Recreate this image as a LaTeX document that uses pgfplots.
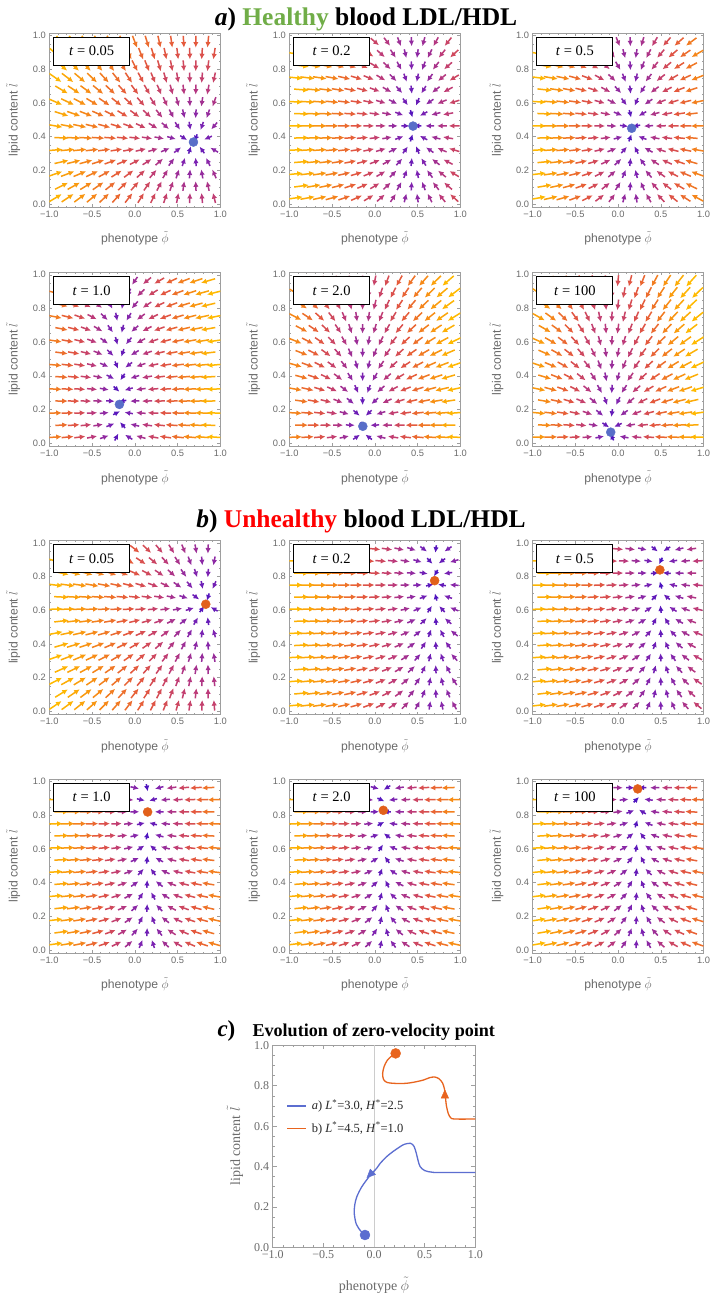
\documentclass[border=0pt]{standalone}
\usepackage{pgfplots}
\pgfplotsset{compat=1.18}
\usepackage{pgfplotstable}
\usepackage{fontspec}
\usetikzlibrary{arrows.meta}
\newfontfamily\lsans{Liberation Sans}
\newfontfamily\lserif{Liberation Serif}
\definecolor{framegray}{gray}{0.62}
\definecolor{labgray}{gray}{0.42}
\definecolor{hblue}{RGB}{88,110,200}
\definecolor{uorange}{RGB}{226,96,26}
\definecolor{cblue}{RGB}{92,110,208}
\definecolor{corange}{RGB}{232,100,30}
\definecolor{hgreen}{RGB}{112,173,71}

% staggered (hexagonal) grid of arrow anchor points
\pgfplotstableread[row sep=\\]{
x y\\
-0.929 0.036\\ -0.786 0.036\\ -0.643 0.036\\ -0.5 0.036\\ -0.357 0.036\\ -0.214 0.036\\ -0.071 0.036\\ 0.071 0.036\\ 0.214 0.036\\ 0.357 0.036\\ 0.5 0.036\\ 0.643 0.036\\ 0.786 0.036\\ 0.929 0.036\\
-0.857 0.107\\ -0.714 0.107\\ -0.571 0.107\\ -0.429 0.107\\ -0.286 0.107\\ -0.143 0.107\\ 0 0.107\\ 0.143 0.107\\ 0.286 0.107\\ 0.429 0.107\\ 0.571 0.107\\ 0.714 0.107\\ 0.857 0.107\\
-0.929 0.179\\ -0.786 0.179\\ -0.643 0.179\\ -0.5 0.179\\ -0.357 0.179\\ -0.214 0.179\\ -0.071 0.179\\ 0.071 0.179\\ 0.214 0.179\\ 0.357 0.179\\ 0.5 0.179\\ 0.643 0.179\\ 0.786 0.179\\ 0.929 0.179\\
-0.857 0.25\\ -0.714 0.25\\ -0.571 0.25\\ -0.429 0.25\\ -0.286 0.25\\ -0.143 0.25\\ 0 0.25\\ 0.143 0.25\\ 0.286 0.25\\ 0.429 0.25\\ 0.571 0.25\\ 0.714 0.25\\ 0.857 0.25\\
-0.929 0.321\\ -0.786 0.321\\ -0.643 0.321\\ -0.5 0.321\\ -0.357 0.321\\ -0.214 0.321\\ -0.071 0.321\\ 0.071 0.321\\ 0.214 0.321\\ 0.357 0.321\\ 0.5 0.321\\ 0.643 0.321\\ 0.786 0.321\\ 0.929 0.321\\
-0.857 0.393\\ -0.714 0.393\\ -0.571 0.393\\ -0.429 0.393\\ -0.286 0.393\\ -0.143 0.393\\ 0 0.393\\ 0.143 0.393\\ 0.286 0.393\\ 0.429 0.393\\ 0.571 0.393\\ 0.714 0.393\\ 0.857 0.393\\
-0.929 0.464\\ -0.786 0.464\\ -0.643 0.464\\ -0.5 0.464\\ -0.357 0.464\\ -0.214 0.464\\ -0.071 0.464\\ 0.071 0.464\\ 0.214 0.464\\ 0.357 0.464\\ 0.5 0.464\\ 0.643 0.464\\ 0.786 0.464\\ 0.929 0.464\\
-0.857 0.536\\ -0.714 0.536\\ -0.571 0.536\\ -0.429 0.536\\ -0.286 0.536\\ -0.143 0.536\\ 0 0.536\\ 0.143 0.536\\ 0.286 0.536\\ 0.429 0.536\\ 0.571 0.536\\ 0.714 0.536\\ 0.857 0.536\\
-0.929 0.607\\ -0.786 0.607\\ -0.643 0.607\\ -0.5 0.607\\ -0.357 0.607\\ -0.214 0.607\\ -0.071 0.607\\ 0.071 0.607\\ 0.214 0.607\\ 0.357 0.607\\ 0.5 0.607\\ 0.643 0.607\\ 0.786 0.607\\ 0.929 0.607\\
-0.857 0.679\\ -0.714 0.679\\ -0.571 0.679\\ -0.429 0.679\\ -0.286 0.679\\ -0.143 0.679\\ 0 0.679\\ 0.143 0.679\\ 0.286 0.679\\ 0.429 0.679\\ 0.571 0.679\\ 0.714 0.679\\ 0.857 0.679\\
-0.929 0.75\\ -0.786 0.75\\ -0.643 0.75\\ -0.5 0.75\\ -0.357 0.75\\ -0.214 0.75\\ -0.071 0.75\\ 0.071 0.75\\ 0.214 0.75\\ 0.357 0.75\\ 0.5 0.75\\ 0.643 0.75\\ 0.786 0.75\\ 0.929 0.75\\
-0.857 0.821\\ -0.714 0.821\\ -0.571 0.821\\ -0.429 0.821\\ -0.286 0.821\\ -0.143 0.821\\ 0 0.821\\ 0.143 0.821\\ 0.286 0.821\\ 0.429 0.821\\ 0.571 0.821\\ 0.714 0.821\\ 0.857 0.821\\
-0.929 0.893\\ -0.786 0.893\\ -0.643 0.893\\ -0.5 0.893\\ -0.357 0.893\\ -0.214 0.893\\ -0.071 0.893\\ 0.071 0.893\\ 0.214 0.893\\ 0.357 0.893\\ 0.5 0.893\\ 0.643 0.893\\ 0.786 0.893\\ 0.929 0.893\\
-0.857 0.964\\ -0.714 0.964\\ -0.571 0.964\\ -0.429 0.964\\ -0.286 0.964\\ -0.143 0.964\\ 0 0.964\\ 0.143 0.964\\ 0.286 0.964\\ 0.429 0.964\\ 0.571 0.964\\ 0.714 0.964\\ 0.857 0.964\\
}\gridtab

\pgfplotsset{
  vfield/.style={
    scale only axis, width=171pt, height=174pt,
    xmin=-1, xmax=1, ymin=-0.0195, ymax=1.014,
    axis line style={framegray, line width=0.7pt},
    tick style={framegray, line width=0.5pt},
    tick align=inside, major tick length=3pt, minor tick length=1.6pt,
    xtick={-1,-0.5,0,0.5,1}, xticklabels={−1.0,−0.5,0.0,0.5,1.0},
    ytick={0,0.2,0.4,0.6,0.8,1}, yticklabels={0.0,0.2,0.4,0.6,0.8,1.0},
    minor x tick num=4, minor y tick num=3,
    ticklabel style={font=\lsans\fontsize{9.3}{11}\selectfont, text=labgray},
    xlabel={phenotype $\tilde{\phi}$}, ylabel={lipid content $\tilde{l}$},
    every axis x label/.style={at={(rel axis cs:0.5,-0.18)}, anchor=center,
      font=\lsans\fontsize{12.2}{14}\selectfont, text=labgray},
    every axis y label/.style={at={(rel axis cs:-0.2105,0.5)}, anchor=center, rotate=90,
      font=\lsans\fontsize{12.2}{14}\selectfont, text=labgray},
    colormap={vf}{rgb255=(64,16,196) rgb255=(128,36,176) rgb255=(188,58,122) rgb255=(228,88,62) rgb255=(246,136,24) rgb255=(255,186,0)},
    point meta min=0, point meta max=1,
  },
}

% #1 position, #2 #3 zero-velocity point, #4 vertical gain, #5 its phenotype slope,
% #6 colour scale, #7 time label, #8 dot colour
\newcommand{\vpanel}[8]{%
\begin{axis}[vfield, at={(#1)}, anchor=north west,
  declare function={
    vfu(\a)=(#2-\a);
    vfv(\a,\b)=#4*(#3-\b)*(1+#5*\a);
    vfm(\a,\b)=sqrt(vfu(\a)^2+vfv(\a,\b)^2);
    vfc(\a,\b)=pow(min(1,vfm(\a,\b)/#6+0.0001),0.75);
    vfs(\a,\b)=sqrt((85.5*vfu(\a))^2+(168.4*vfv(\a,\b))^2)+0.001;
    vqu(\a,\b)=(7+8*vfc(\a,\b))*vfu(\a)/vfs(\a,\b);
    vqv(\a,\b)=(7+8*vfc(\a,\b))*vfv(\a,\b)/vfs(\a,\b);
  }]
\addplot[quiver={u={vqu(\thisrow{x},\thisrow{y})}, v={vqv(\thisrow{x},\thisrow{y})}, colored=mapped color},
  point meta={vfc(\thisrow{x},\thisrow{y})}, line width=1.5pt, -{Latex[length=5.6pt,width=5.4pt]}]
  table[x expr={\thisrow{x}-0.5*vqu(\thisrow{x},\thisrow{y})}, y expr={\thisrow{y}-0.5*vqv(\thisrow{x},\thisrow{y})}] {\gridtab};
\node[draw=black, fill=white, line width=0.8pt, minimum width=76pt, minimum height=28pt, inner sep=0pt,
  anchor=north west, font=\lserif\fontsize{14.5}{16}\selectfont] at (rel axis cs:0.023,0.98) {#7};
\addplot[only marks, mark=*, mark size=4.5pt, color=#8] coordinates {(#2,#3)};
\end{axis}}

\begin{document}
\begin{tikzpicture}[x=1pt,y=1pt]
\fill[white] (0,0) rectangle (711,-1296);
\useasboundingbox (0,0) rectangle (711,-1296);

\node[anchor=base, font=\lserif\bfseries\fontsize{25.5}{28}\selectfont] at (366,-25)
  {\textit{a}) \textcolor{hgreen}{Healthy} blood LDL/HDL};
\node[anchor=base, font=\lserif\bfseries\fontsize{25.5}{28}\selectfont] at (361,-527)
  {\textit{b}) \textcolor{red}{Unhealthy} blood LDL/HDL};

% healthy blood
\vpanel{49.3pt,-33.3pt}{0.686}{0.368}{1.5}{0}{1.75}{\textit{t} = 0.05}{hblue}
\vpanel{289.3pt,-33.3pt}{0.447}{0.463}{0.384}{0.39}{1.35}{\textit{t} = 0.2}{hblue}
\vpanel{532.5pt,-33.3pt}{0.16}{0.45}{0.38}{0.39}{1.1}{\textit{t} = 0.5}{hblue}
\vpanel{49.3pt,-272.4pt}{-0.18}{0.23}{0.18}{0.2}{1.11}{\textit{t} = 1.0}{hblue}
\vpanel{289.3pt,-272.4pt}{-0.14}{0.10}{0.42}{0.25}{1.1}{\textit{t} = 2.0}{hblue}
\vpanel{532.5pt,-272.4pt}{-0.085}{0.065}{0.48}{0.28}{1.03}{\textit{t} = 100}{hblue}

% unhealthy blood
\vpanel{49.3pt,-540.6pt}{0.83}{0.636}{1.0}{0}{1.8}{\textit{t} = 0.05}{uorange}
\vpanel{289.3pt,-540.6pt}{0.70}{0.776}{0.2}{0.5}{1.65}{\textit{t} = 0.2}{uorange}
\vpanel{532.5pt,-540.6pt}{0.49}{0.84}{0.17}{0.4}{1.45}{\textit{t} = 0.5}{uorange}
\vpanel{49.3pt,-779.3pt}{0.15}{0.82}{0.12}{0.2}{1.12}{\textit{t} = 1.0}{uorange}
\vpanel{289.3pt,-779.3pt}{0.10}{0.83}{0.1}{0.2}{1.08}{\textit{t} = 2.0}{uorange}
\vpanel{532.5pt,-779.3pt}{0.23}{0.957}{0.125}{0.1}{1.15}{\textit{t} = 100}{uorange}

% trajectories of the zero-velocity point
\node[anchor=base west, font=\lserif\bfseries\fontsize{23}{26}\selectfont] at (214,-1036) {\textit{c})};
\node[anchor=base west, font=\lserif\bfseries\fontsize{18.1}{21}\selectfont] at (249,-1036) {Evolution of zero-velocity point};

\begin{axis}[at={(272.7pt,-1045.3pt)}, anchor=north west, scale only axis, width=202.6pt, height=202pt,
  xmin=-1, xmax=1, ymin=0, ymax=1,
  axis line style={gray!75, line width=0.8pt},
  tick style={gray!75, line width=0.5pt},
  tick align=inside, major tick length=4pt, minor tick length=2pt,
  xtick={-1,-0.5,0,0.5,1}, xticklabels={−1.0,−0.5,0.0,0.5,1.0},
  ytick={0,0.2,0.4,0.6,0.8,1}, yticklabels={0.0,0.2,0.4,0.6,0.8,1.0},
  minor x tick num=4, minor y tick num=3,
  ticklabel style={font=\lserif\fontsize{12}{14}\selectfont, text=labgray},
  xlabel={phenotype $\tilde{\phi}$}, ylabel={lipid content $\tilde{l}$},
  every axis x label/.style={at={(rel axis cs:0.5,-0.187)}, anchor=center,
    font=\lserif\fontsize{14}{16}\selectfont, text=labgray},
  every axis y label/.style={at={(rel axis cs:-0.186,0.5)}, anchor=center, rotate=90,
    font=\lserif\fontsize{14}{16}\selectfont, text=labgray},
]
\addplot[gray!40, line width=1pt] coordinates {(0,0) (0,1)};
\addplot[cblue, line width=1.3pt, smooth, tension=0.5] coordinates {
  (1.0,0.37) (0.75,0.37) (0.586,0.371) (0.5,0.38) (0.455,0.40) (0.435,0.43) (0.418,0.465)
  (0.395,0.5) (0.36,0.515) (0.3,0.51) (0.257,0.498) (0.19,0.475) (0.125,0.449) (0.06,0.415)
  (0.026,0.391) (-0.04,0.355) (-0.12,0.30) (-0.17,0.25) (-0.19,0.21) (-0.195,0.168)
  (-0.175,0.115) (-0.13,0.08) (-0.089,0.061)};
\addplot[corange, line width=1.3pt, smooth, tension=0.5] coordinates {
  (1.0,0.635) (0.8,0.635) (0.76,0.64) (0.735,0.66) (0.715,0.70) (0.705,0.745) (0.695,0.785)
  (0.675,0.815) (0.64,0.835) (0.6,0.843) (0.55,0.84) (0.487,0.828) (0.4,0.818) (0.322,0.812)
  (0.25,0.811) (0.19,0.812) (0.13,0.816) (0.095,0.83) (0.085,0.86) (0.1,0.895) (0.13,0.925)
  (0.17,0.945) (0.214,0.96)};
% direction of travel
\addplot[cblue, line width=0.4pt, quiver={u=-0.068, v=-0.034},
  -{Triangle[length=9pt,width=8pt]}] coordinates {(-0.005,0.377)};
\addplot[corange, line width=0.4pt, quiver={u=0, v=0.047},
  -{Triangle[length=9pt,width=8pt]}] coordinates {(0.70,0.735)};
% final zero-velocity points
\addplot[only marks, mark=*, mark size=5pt, cblue] coordinates {(-0.089,0.061)};
\addplot[only marks, mark=*, mark size=5pt, corange] coordinates {(0.214,0.96)};
% key
\addplot[cblue, line width=1.4pt] coordinates {(-0.855,0.70) (-0.67,0.70)};
\addplot[corange, line width=1.4pt] coordinates {(-0.855,0.589) (-0.67,0.589)};
\node[anchor=west, inner sep=0pt, font=\lserif\fontsize{12.5}{15}\selectfont, text=black!85]
  at (axis cs:-0.615,0.70) {\textit{a}) \textit{L}\textsuperscript{*}=3.0, \textit{H}\textsuperscript{*}=2.5};
\node[anchor=west, inner sep=0pt, font=\lserif\fontsize{12.5}{15}\selectfont, text=black!85]
  at (axis cs:-0.615,0.589) {b) \textit{L}\textsuperscript{*}=4.5, \textit{H}\textsuperscript{*}=1.0};
\end{axis}
\end{tikzpicture}
\end{document}
